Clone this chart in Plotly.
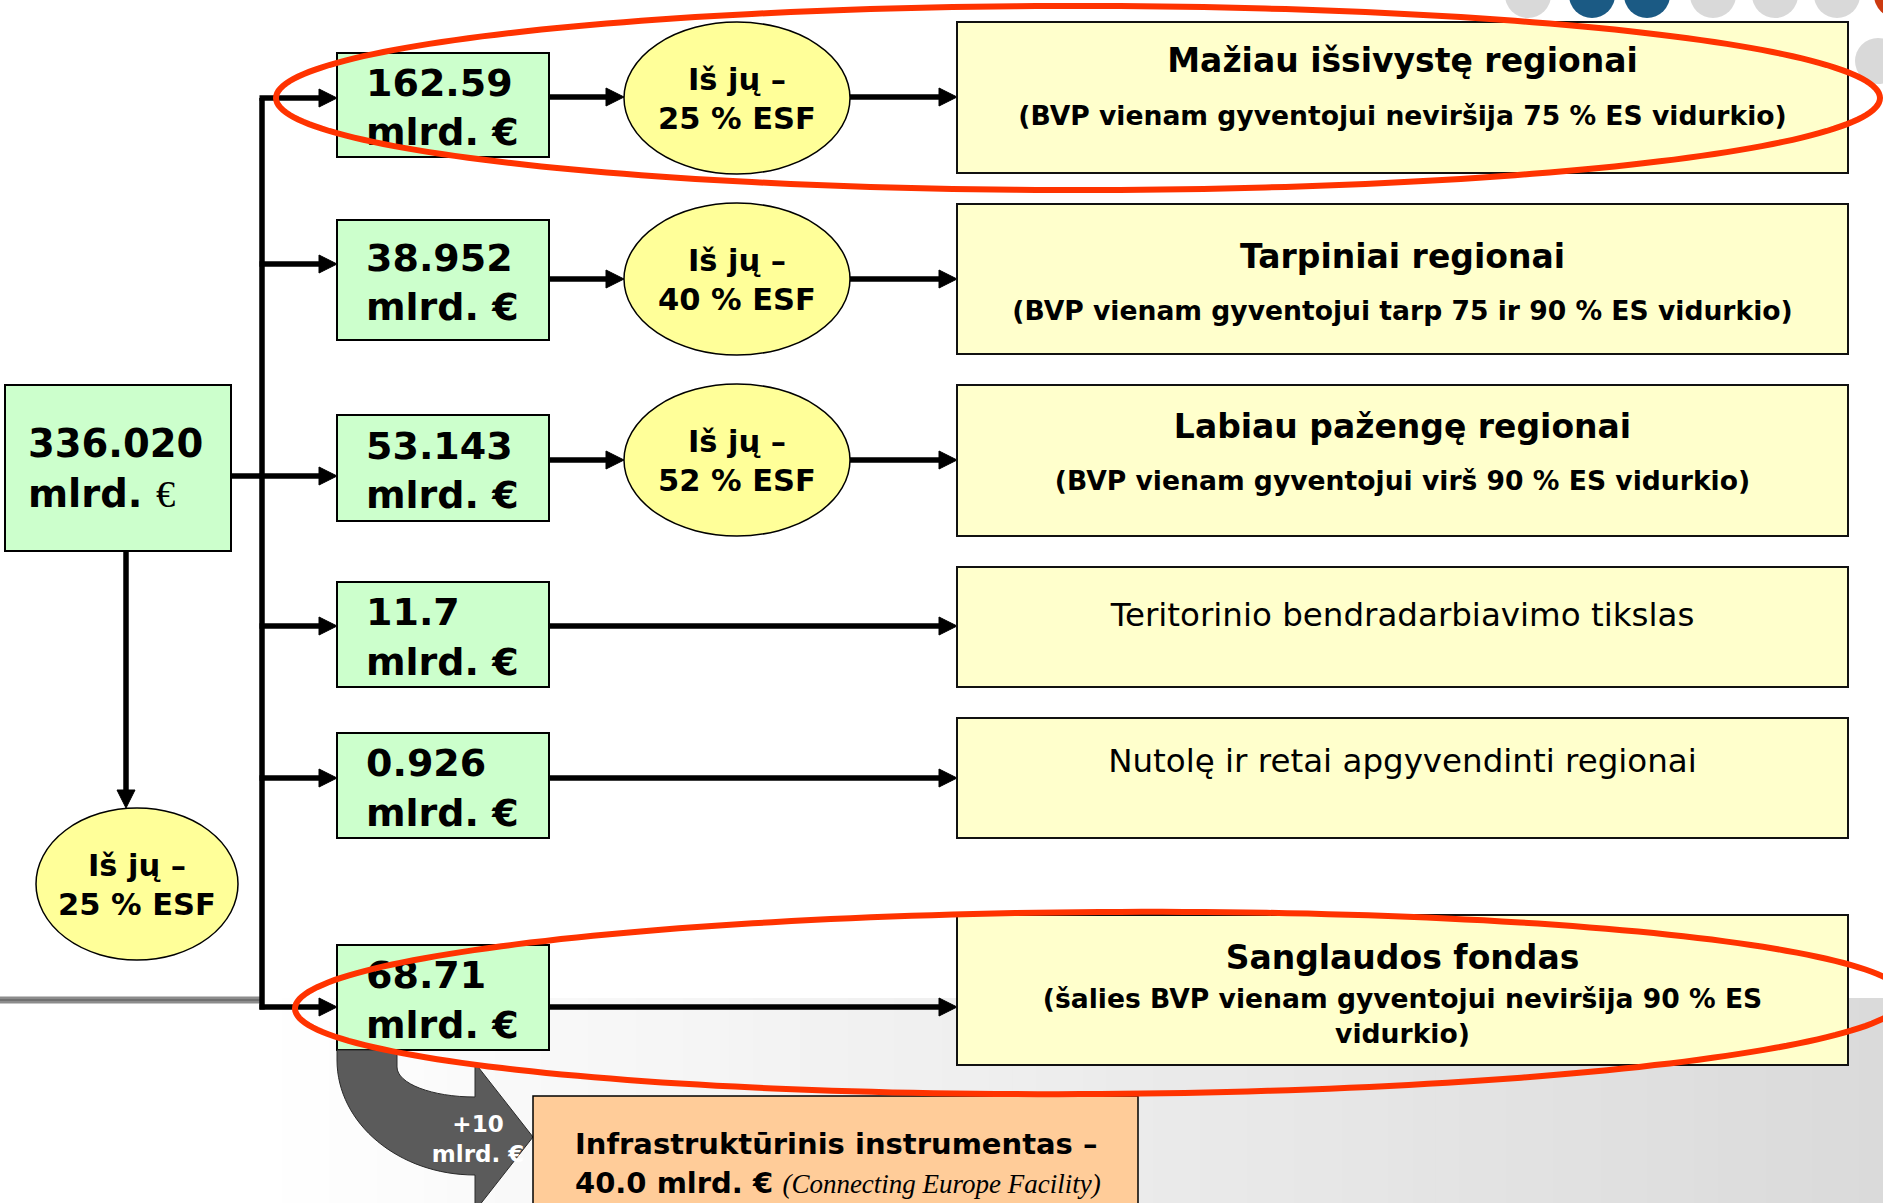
import numpy as np
import plotly.graph_objects as go

W, H = 1883, 1203

# ---------------- data ----------------
total_amount = "336.020"
total_esf = "25 % ESF"
amounts = ["162.59", "38.952", "53.143", "11.7", "0.926", "68.71"]
esf_shares = ["25 % ESF", "40 % ESF", "52 % ESF"]
esf_prefix = "Iš jų –"
unit = "mlrd."
currency = "€"
region_titles = ["Mažiau išsivystę regionai", "Tarpiniai regionai", "Labiau pažengę regionai",
                 "Teritorinio bendradarbiavimo tikslas", "Nutolę ir retai apgyvendinti regionai",
                 "Sanglaudos fondas"]
region_notes = ["(BVP vienam gyventojui neviršija 75 % ES vidurkio)",
                "(BVP vienam gyventojui tarp 75 ir 90 % ES vidurkio)",
                "(BVP vienam gyventojui virš 90 % ES vidurkio)",
                "", "",
                "(šalies BVP vienam gyventojui neviršija 90 % ES<br>vidurkio)"]
region_bold = [True, True, True, False, False, True]
cef_extra = "+10"
cef_title = "Infrastruktūrinis instrumentas –"
cef_amount = "40.0"
cef_name = "(Connecting Europe Facility)"

# ---------------- layout geometry ----------------
SANS = "Tahoma, DejaVu Sans, Verdana, sans-serif"
SERIF = "Times New Roman, Liberation Serif, serif"
GREEN, YELLOW, PALE, ORANGE, RED = "#CCFFCC", "#FFFF99", "#FFFFCC", "#FFCC99", "#FF3300"

main_box = (5, 231, 385, 551)
trunk_x = 262
green_x = (337, 549)
green_y = [(53, 157), (220, 340), (415, 521), (582, 687), (733, 838), (945, 1050)]
branch_y = [98, 264, 476, 626, 778, 1007]
flow_y = [97, 279, 460, 626, 778, 1007]
right_x = (957, 1848)
right_y = [(22, 173), (204, 354), (385, 536), (567, 687), (718, 838), (915, 1065)]
oval_cx, oval_rx, oval_ry = 737, 113, 76
oval_cy = [98, 279, 460]
title_y = [60, 256, 426, 614, 760, 957]
note_y = [114, 309, 479, None, None, 1015]
total_oval = (137, 884, 101, 76)
TY = 4  # vertical text nudge

fig = go.Figure()
shapes = []


def rect(x0, x1, y0, y1, fill, lw=2, lc="black", layer="below"):
    shapes.append(dict(type="rect", x0=x0, x1=x1, y0=y0, y1=y1, fillcolor=fill,
                       line=dict(color=lc, width=lw), layer=layer))


def oval(cx, cy, rx, ry, fill, lw=1.5):
    shapes.append(dict(type="circle", x0=cx - rx, x1=cx + rx, y0=cy - ry, y1=cy + ry,
                       fillcolor=fill, line=dict(color="black", width=lw), layer="below"))


def line(x0, y0, x1, y1, w=5.5, c="black"):
    shapes.append(dict(type="line", x0=x0, y0=y0, x1=x1, y1=y1,
                       line=dict(color=c, width=w), layer="below"))


def arrow(x0, y0, x1, y1, head=18, half=9):
    d = np.array([x1 - x0, y1 - y0], float)
    L = np.hypot(*d)
    u = d / L
    n = np.array([-u[1], u[0]])
    bx, by = x1 - u[0] * head, y1 - u[1] * head
    line(x0, y0, bx + u[0] * 2, by + u[1] * 2)
    p1 = (bx + n[0] * half, by + n[1] * half)
    p2 = (bx - n[0] * half, by - n[1] * half)
    shapes.append(dict(type="path", path=f"M{x1},{y1} L{p1[0]},{p1[1]} L{p2[0]},{p2[1]} Z",
                       fillcolor="black", line=dict(color="black", width=1), layer="below"))


def text(x, y, s, size, family=SANS, color="black", pos="middle center"):
    fig.add_trace(go.Scatter(x=[x], y=[y + TY], mode="text", text=[s], textposition=pos,
                             textfont=dict(family=family, size=size, color=color),
                             hoverinfo="skip", showlegend=False, cliponaxis=False))


def ellipse_path(cx, cy, rx, ry, ang=0.0, n=240):
    t = np.linspace(0, 2 * np.pi, n, endpoint=False)
    a = np.deg2rad(ang)
    xs = cx + rx * np.cos(t) * np.cos(a) - ry * np.sin(t) * np.sin(a)
    ys = cy + rx * np.cos(t) * np.sin(a) + ry * np.sin(t) * np.cos(a)
    return "M" + " L".join(f"{x:.1f},{y:.1f}" for x, y in zip(xs, ys)) + " Z"


# ---------------- background ----------------
nb = 80
for i in range(nb):
    x0, x1 = W * i / nb, W * (i + 1) / nb
    xc = (x0 + x1) / 2
    t = max(0.0, (xc - 260) / (W - 260))
    v = int(round(255 - 37 * t))
    shapes.append(dict(type="rect", x0=x0, x1=x1 + 1, y0=998, y1=H + 5, fillcolor=f"rgb({v},{v},{v})",
                       line=dict(width=0), layer="below"))
line(0, 1000, trunk_x, 1000, w=7, c="#8c8c8c")
line(0, 1000, trunk_x, 1000, w=2, c="#707070")

# top-right decorative dots
for cx, col in [(1528, "#d9d9d9"), (1592, "#1b5a84"), (1647, "#1b5a84"), (1713, "#d9d9d9"),
                (1775, "#d9d9d9"), (1837, "#d9d9d9"), (1897, "#cc3a10")]:
    shapes.append(dict(type="circle", x0=cx - 23, x1=cx + 23, y0=-28, y1=18, fillcolor=col,
                       line=dict(width=0), layer="below"))
shapes.append(dict(type="circle", x0=1855, x1=1901, y0=38, y1=84, fillcolor="#d9d9d9",
                   line=dict(width=0), layer="below"))

# ---------------- connectors ----------------
line(trunk_x, branch_y[0], trunk_x, branch_y[-1] + 2.5)
line(main_box[1], branch_y[2], trunk_x, branch_y[2])
for yb in branch_y:
    arrow(trunk_x - 2.5, yb, green_x[0], yb)
cx_t, cy_t, rx_t, ry_t = total_oval
arrow(126, main_box[3], 126, cy_t - ry_t)
for i in range(6):
    yf = flow_y[i]
    if i < 3:
        arrow(green_x[1], yf, oval_cx - oval_rx, yf)
        arrow(oval_cx + oval_rx, yf, right_x[0], yf)
    else:
        arrow(green_x[1], yf, right_x[0], yf)

# ---------------- boxes ----------------
rect(main_box[0], main_box[1], main_box[2], main_box[3], GREEN)
for (y0, y1) in green_y:
    rect(green_x[0], green_x[1], y0, y1, GREEN)
for (y0, y1) in right_y:
    rect(right_x[0], right_x[1], y0, y1, PALE, lc="#111111")
for cy in oval_cy:
    oval(oval_cx, cy, oval_rx, oval_ry, YELLOW)
oval(cx_t, cy_t, rx_t, ry_t, YELLOW)

# curved grey arrow to the infrastructure box
k = 0.5523
gp = (f"M337,1050 L337,1060 C337,{1060 + k * 115:.1f} {475 - k * 138:.1f},1175 475,1175 "
      f"L475,1211 L533,1137 L475,1063 L475,1097 "
      f"C{475 - k * 78:.1f},1097 397,{1067 + k * 30:.1f} 397,1067 L397,1050 Z")
shapes.append(dict(type="path", path=gp, fillcolor="#5b5b5b", line=dict(color="#2a2a2a", width=1),
                   layer="below"))

# infrastructure box (covers part of the grey arrow label)
rect(533, 1138, 1096, 1220, ORANGE, lw=1.5, layer="above")

# red highlight ellipses
shapes.append(dict(type="path", path=ellipse_path(1078, 98, 802, 92), line=dict(color=RED, width=6),
                   fillcolor="rgba(0,0,0,0)", layer="above"))
shapes.append(dict(type="path", path=ellipse_path(1100, 1003, 805, 91, -0.4), line=dict(color=RED, width=6),
                   fillcolor="rgba(0,0,0,0)", layer="above"))

# ---------------- texts ----------------
euro_serif = f"<span style=\"font-family:{SERIF};font-weight:normal\">{currency}</span>"
text(28, (main_box[2] + main_box[3]) / 2, f"<b>{total_amount}</b><br><b>{unit} </b>{euro_serif}",
     38.5, pos="middle right")
for i, (y0, y1) in enumerate(green_y):
    text(366, (y0 + y1) / 2 + 2, f"<b>{amounts[i]}</b><br><b>{unit} {currency}</b>", 38, pos="middle right")
for i, cy in enumerate(oval_cy):
    text(oval_cx, cy, f"<b>{esf_prefix}</b><br><b>{esf_shares[i]}</b>", 30.5)
text(cx_t, cy_t, f"<b>{esf_prefix}</b><br><b>{total_esf}</b>", 30.5)

rcx = (right_x[0] + right_x[1]) / 2
for i in range(6):
    if region_bold[i]:
        text(rcx, title_y[i], f"<b>{region_titles[i]}</b>", 33)
    else:
        text(rcx, title_y[i], region_titles[i], 32.5)
    if note_y[i] is not None:
        note = "<br>".join(f"<b>{p}</b>" for p in region_notes[i].split("<br>"))
        text(rcx, note_y[i], note, 26.6)

text(478, 1137, f"<b>{cef_extra}</b><br><b>{unit} {currency}</b>", 23, color="white")

annotations = [
    dict(x=573, y=1144, xref="x", yref="y", xanchor="left", yanchor="middle", showarrow=False,
         text=f"<b>{cef_title}</b>", font=dict(family=SANS, size=29, color="black")),
    dict(x=573, y=1183, xref="x", yref="y", xanchor="left", yanchor="middle", showarrow=False,
         text=f"<b>{cef_amount} {unit} {currency}</b> "
              f"<span style=\"font-family:{SERIF};font-size:27px\"><i>{cef_name}</i></span>",
         font=dict(family=SANS, size=29, color="black")),
]

fig.update_layout(
    width=W, height=H, margin=dict(l=0, r=0, t=0, b=0),
    paper_bgcolor="white", plot_bgcolor="white",
    xaxis=dict(range=[0, W], visible=False, fixedrange=True),
    yaxis=dict(range=[H, 0], visible=False, fixedrange=True),
    shapes=shapes, annotations=annotations, showlegend=False,
)
fig.write_html("out.html", config={"displayModeBar": False},
               post_script="document.body.style.margin='0';document.body.style.overflow='hidden';")
